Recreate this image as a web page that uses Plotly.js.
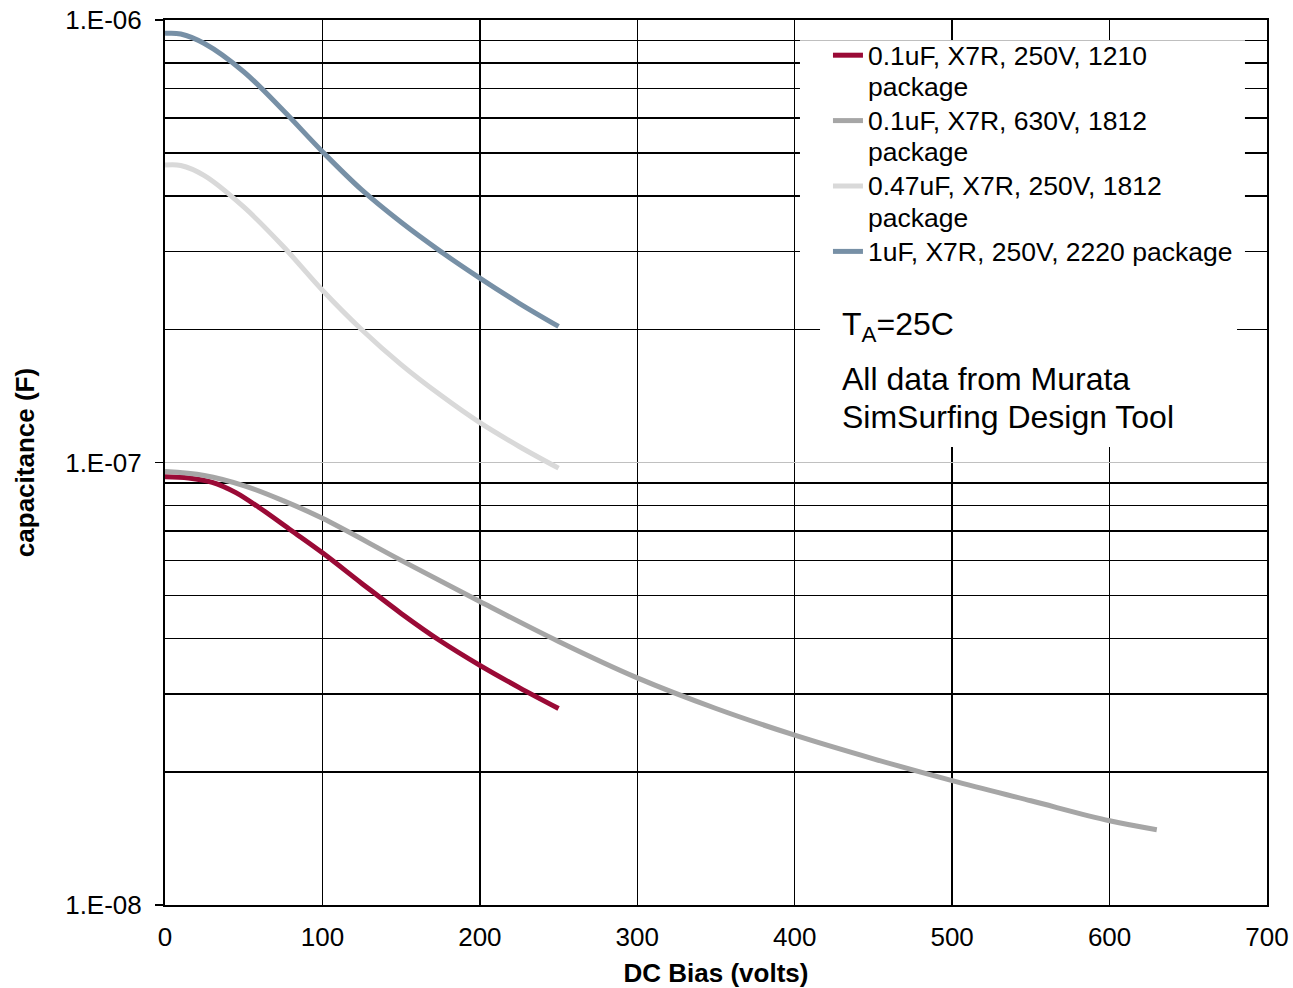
<!DOCTYPE html>
<html>
<head>
<meta charset="utf-8">
<script src="https://cdn.plot.ly/plotly-3.0.1.min.js"></script>
<style>
html, body { margin: 0; padding: 0; background: #ffffff; }
#chart { width: 1293px; height: 988px; }
</style>
</head>
<body>
<div id="chart"></div>
<script>
// ---- data ----
const seriesLabelLines = [
  ["0.1uF, X7R, 250V, 1210", "package"],
  ["0.1uF, X7R, 630V, 1812", "package"],
  ["0.47uF, X7R, 250V, 1812", "package"],
  ["1uF, X7R, 250V, 2220 package"]
];

const vRed = [0, 15, 30, 45, 60, 80, 100, 125, 150, 175, 200, 225, 250];
const cRed = [9.29e-8, 9.23e-8, 9.02e-8, 8.55e-8, 7.90e-8, 7.03e-8, 6.25e-8, 5.33e-8, 4.56e-8, 3.95e-8, 3.48e-8, 3.10e-8, 2.78e-8];

const vGray = [0, 25, 50, 75, 100, 150, 200, 250, 300, 350, 400, 450, 500, 550, 600, 630];
const cGray = [9.54e-8, 9.35e-8, 8.87e-8, 8.2e-8, 7.48e-8, 6.01e-8, 4.85e-8, 3.94e-8, 3.26e-8, 2.78e-8, 2.42e-8, 2.14e-8, 1.91e-8, 1.72e-8, 1.55e-8, 1.48e-8];

const vLight = [0, 10, 25, 50, 75, 100, 125, 150, 175, 200, 225, 250];
const cLight = [4.70e-7, 4.69e-7, 4.45e-7, 3.78e-7, 3.08e-7, 2.45e-7, 1.995e-7, 1.664e-7, 1.42e-7, 1.23e-7, 1.087e-7, 9.71e-8];

const vBlue = [0, 10, 25, 50, 75, 100, 125, 150, 175, 200, 225, 250];
const cBlue = [9.33e-7, 9.3e-7, 8.85e-7, 7.64e-7, 6.25e-7, 5.04e-7, 4.13e-7, 3.49e-7, 3.0e-7, 2.61e-7, 2.29e-7, 2.03e-7];

const noteTemp = "T<sub>A</sub>=25C";
const noteSourceLines = ["All data from Murata", "SimSurfing Design Tool"];

const yMajorTicks = [1e-8, 1e-7, 1e-6];
const yMajorLabels = ["1.E-08", "1.E-07", "1.E-06"];
const yMinorTicks = [2e-8, 3e-8, 4e-8, 5e-8, 6e-8, 7e-8, 8e-8, 9e-8,
                     2e-7, 3e-7, 4e-7, 5e-7, 6e-7, 7e-7, 8e-7, 9e-7];
const xTicks = [0, 100, 200, 300, 400, 500, 600, 700];

// ---- styling ----
const colors = ["#9a0a36", "#a6a6a6", "#d9d9d9", "#7790a6"];
const FONT = "Liberation Sans, Arial, sans-serif";

// glyph size larger than the line pitch (tighter line spacing like the original)
function sized(lines, px) {
  return lines.map(s => '<span style="font-size:' + px + 'px">' + s + '</span>').join("<br>");
}

const xs = [vRed, vGray, vLight, vBlue];
const ys = [cRed, cGray, cLight, cBlue];

const traces = xs.map((x, i) => ({
  type: "scatter",
  mode: "lines",
  x: x,
  y: ys[i],
  name: sized(seriesLabelLines[i], 26.5),
  line: { color: colors[i], width: 5, shape: "spline", smoothing: 1 },
  hoverinfo: "x+y"
}));

const layout = {
  width: 1293,
  height: 988,
  margin: { l: 165, r: 26, t: 20, b: 83 },
  paper_bgcolor: "#ffffff",
  plot_bgcolor: "#ffffff",
  font: { family: FONT, size: 26, color: "#000000" },
  showlegend: true,
  legend: {
    x: 0.6016, y: 0.9852, xanchor: "left", yanchor: "top",
    bgcolor: "rgba(255,255,255,0)", borderwidth: 0,
    font: { family: FONT, size: 24, color: "#000000" },
    valign: "top", tracegroupgap: 0
  },
  xaxis: {
    range: [0, 700],
    tickvals: xTicks,
    ticks: "",
    ticklabelstandoff: 8,
    showgrid: true, gridcolor: "#000000", gridwidth: 1.5,
    zeroline: false,
    showline: true, linecolor: "#000000", linewidth: 2, mirror: true,
    tickfont: { family: FONT, size: 26, color: "#000000" },
    title: { text: "<b>DC Bias (volts)</b>", font: { family: FONT, size: 26, color: "#000000" }, standoff: 14 }
  },
  yaxis: {
    type: "log",
    range: [-8, -6],
    tickvals: yMajorTicks,
    ticktext: yMajorLabels,
    ticks: "outside", ticklen: 8, tickwidth: 1.5, tickcolor: "#000000",
    ticklabelstandoff: 8,
    showgrid: true, gridcolor: "#c0c0c0", gridwidth: 1.5,
    minor: { tickvals: yMinorTicks, showgrid: true, gridcolor: "#000000", gridwidth: 1.5, ticks: "" },
    zeroline: false,
    showline: true, linecolor: "#000000", linewidth: 2, mirror: true,
    tickfont: { family: FONT, size: 26, color: "#000000" },
    title: { text: "<b>capacitance (F)</b>", font: { family: FONT, size: 26, color: "#000000" }, standoff: 23 }
  },
  shapes: [
    { type: "rect", xref: "paper", yref: "paper", layer: "above",
      x0: 0.5762, x1: 0.980, y0: 0.70, y1: 0.977,
      fillcolor: "#ffffff", line: { width: 0 } },
    { type: "rect", xref: "paper", yref: "paper", layer: "above",
      x0: 0.5944, x1: 0.9728, y0: 0.5175, y1: 0.705,
      fillcolor: "#ffffff", line: { width: 0 } }
  ],
  annotations: [
    { xref: "paper", yref: "paper", x: 0.6125, y: 0.654, xanchor: "left", yanchor: "middle",
      text: noteTemp, showarrow: false, align: "left",
      font: { family: FONT, size: 32, color: "#000000" } },
    { xref: "paper", yref: "paper", x: 0.6125, y: 0.573, xanchor: "left", yanchor: "middle",
      text: sized(noteSourceLines, 32), showarrow: false, align: "left",
      font: { family: FONT, size: 29, color: "#000000" } }
  ]
};

Plotly.newPlot("chart", traces, layout, { displayModeBar: false, staticPlot: true });
</script>
</body>
</html>
